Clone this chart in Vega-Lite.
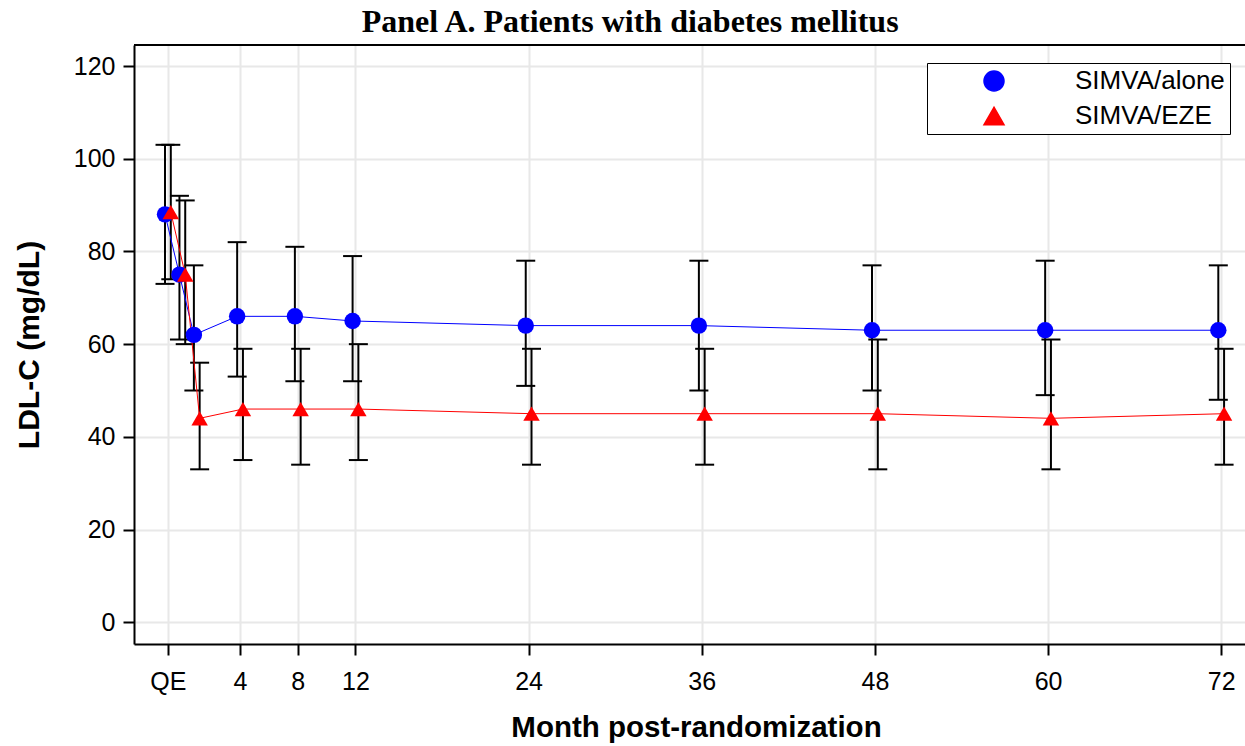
{
  "$schema": "https://vega.github.io/schema/vega-lite/v6.json",
  "autosize": {"type": "none"},
  "padding": {"left": 134, "top": 45, "right": 0, "bottom": 102},
  "width": 1111,
  "height": 599,
  "background": "white",
  "config": {"view": {"stroke": null}},
  "title": {
    "text": "Panel A. Patients with diabetes mellitus",
    "font": "Liberation Serif",
    "fontSize": 32,
    "fontWeight": "bold",
    "color": "black",
    "anchor": "middle",
    "frame": "bounds",
    "baseline": "alphabetic",
    "offset": -20
  },
  "data": {
    "values": [
      {"series": "SIMVA/alone", "month": -1.2, "ldl": 88, "lo": 73, "hi": 103},
      {"series": "SIMVA/alone", "month": -0.2, "ldl": 75, "lo": 61, "hi": 92},
      {"series": "SIMVA/alone", "month": 0.8, "ldl": 62, "lo": 50, "hi": 77},
      {"series": "SIMVA/alone", "month": 3.8, "ldl": 66, "lo": 53, "hi": 82},
      {"series": "SIMVA/alone", "month": 7.8, "ldl": 66, "lo": 52, "hi": 81},
      {"series": "SIMVA/alone", "month": 11.8, "ldl": 65, "lo": 52, "hi": 79},
      {"series": "SIMVA/alone", "month": 23.8, "ldl": 64, "lo": 51, "hi": 78},
      {"series": "SIMVA/alone", "month": 35.8, "ldl": 64, "lo": 50, "hi": 78},
      {"series": "SIMVA/alone", "month": 47.8, "ldl": 63, "lo": 50, "hi": 77},
      {"series": "SIMVA/alone", "month": 59.8, "ldl": 63, "lo": 49, "hi": 78},
      {"series": "SIMVA/alone", "month": 71.8, "ldl": 63, "lo": 48, "hi": 77},
      {"series": "SIMVA/EZE", "month": -0.8, "ldl": 88.5, "lo": 74, "hi": 103},
      {"series": "SIMVA/EZE", "month": 0.2, "ldl": 75, "lo": 60, "hi": 91},
      {"series": "SIMVA/EZE", "month": 1.2, "ldl": 44, "lo": 33, "hi": 56},
      {"series": "SIMVA/EZE", "month": 4.2, "ldl": 46, "lo": 35, "hi": 59},
      {"series": "SIMVA/EZE", "month": 8.2, "ldl": 46, "lo": 34, "hi": 59},
      {"series": "SIMVA/EZE", "month": 12.2, "ldl": 46, "lo": 35, "hi": 60},
      {"series": "SIMVA/EZE", "month": 24.2, "ldl": 45, "lo": 34, "hi": 59},
      {"series": "SIMVA/EZE", "month": 36.2, "ldl": 45, "lo": 34, "hi": 59},
      {"series": "SIMVA/EZE", "month": 48.2, "ldl": 45, "lo": 33, "hi": 61},
      {"series": "SIMVA/EZE", "month": 60.2, "ldl": 44, "lo": 33, "hi": 61},
      {"series": "SIMVA/EZE", "month": 72.2, "ldl": 45, "lo": 34, "hi": 59}
    ]
  },
  "layer": [
    {
      "mark": {"type": "rule", "color": "black", "strokeWidth": 2},
      "encoding": {
        "x": {
          "field": "month", "type": "quantitative",
          "scale": {"domain": [-3.35, 73.65], "nice": false, "zero": false},
          "axis": {
            "title": "Month post-randomization",
            "values": [-1, 4, 8, 12, 24, 36, 48, 60, 72],
            "labelExpr": "datum.value === -1 ? 'QE' : datum.label",
            "domainColor": "black", "domainWidth": 2,
            "tickColor": "black", "tickWidth": 2, "tickSize": 11,
            "labelFont": "Liberation Sans", "labelFontSize": 25, "labelColor": "black",
            "labelPadding": 14, "labelFlush": false, "labelOverlap": false,
            "titleFont": "Liberation Sans", "titleFontSize": 29.5, "titleFontWeight": "bold",
            "titleColor": "black", "titlePadding": 19, "titleX": 562,
            "grid": true, "gridColor": "#e8e8e8", "gridWidth": 2
          }
        },
        "y": {
          "field": "lo", "type": "quantitative",
          "scale": {"domain": [-4.68, 124.53], "nice": false, "zero": false},
          "axis": {
            "title": "LDL-C (mg/dL)",
            "values": [0, 20, 40, 60, 80, 100, 120],
            "domainColor": "black", "domainWidth": 2,
            "tickColor": "black", "tickWidth": 2, "tickSize": 11,
            "labelFont": "Liberation Sans", "labelFontSize": 25, "labelColor": "black",
            "labelPadding": 8, "labelFlush": false, "labelOverlap": false,
            "titleFont": "Liberation Sans", "titleFontSize": 30, "titleFontWeight": "bold",
            "titleColor": "black", "titlePadding": 29,
            "grid": true, "gridColor": "#e8e8e8", "gridWidth": 2
          }
        },
        "y2": {"field": "hi"}
      }
    },
    {
      "mark": {"type": "tick", "orient": "horizontal", "color": "black", "size": 19, "thickness": 2, "opacity": 1},
      "encoding": {
        "x": {"field": "month", "type": "quantitative"},
        "y": {"field": "lo", "type": "quantitative"}
      }
    },
    {
      "mark": {"type": "tick", "orient": "horizontal", "color": "black", "size": 19, "thickness": 2, "opacity": 1},
      "encoding": {
        "x": {"field": "month", "type": "quantitative"},
        "y": {"field": "hi", "type": "quantitative"}
      }
    },
    {
      "mark": {"type": "line", "strokeWidth": 1},
      "encoding": {
        "x": {"field": "month", "type": "quantitative"},
        "y": {"field": "ldl", "type": "quantitative"},
        "color": {
          "field": "series", "type": "nominal",
          "scale": {"domain": ["SIMVA/alone", "SIMVA/EZE"], "range": ["#0000ff", "#ff0000"]}
        }
      }
    },
    {
      "mark": {"type": "point", "filled": true, "size": 270, "opacity": 1},
      "encoding": {
        "x": {"field": "month", "type": "quantitative"},
        "y": {"field": "ldl", "type": "quantitative"},
        "shape": {
          "field": "series", "type": "nominal",
          "scale": {"domain": ["SIMVA/alone", "SIMVA/EZE"], "range": ["circle", "triangle-up"]}
        },
        "color": {
          "field": "series", "type": "nominal",
          "scale": {"domain": ["SIMVA/alone", "SIMVA/EZE"], "range": ["#0000ff", "#ff0000"]},
          "legend": {
            "orient": "none", "legendX": 793, "legendY": 18,
            "title": null, "padding": 5,
            "strokeColor": "black", "fillColor": "white",
            "labelFont": "Liberation Sans", "labelFontSize": 26, "labelColor": "black",
            "labelLimit": 300, "labelOffset": 68, "symbolOffset": 49,
            "symbolSize": 400, "rowPadding": 9,
            "labelExpr": "datum.label + '\u00a0'"
          }
        }
      }
    },
    {
      "mark": {"type": "rule", "color": "black", "strokeWidth": 2},
      "encoding": {
        "y": {"datum": 124.53, "type": "quantitative"}
      }
    }
  ]
}
